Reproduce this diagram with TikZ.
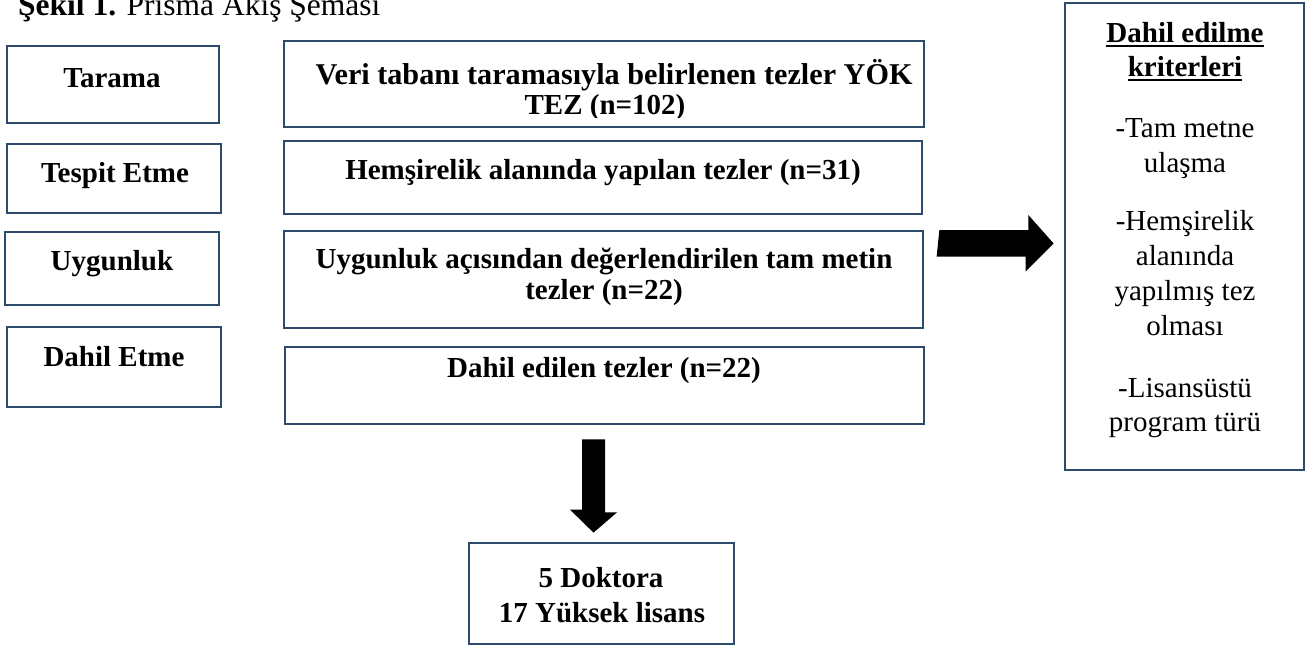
\documentclass[tikz,border=0pt]{standalone}
\usepackage{fontspec}
\setmainfont{Liberation Serif}
\usetikzlibrary{calc}
\definecolor{bordc}{HTML}{2E4B6D}
\tikzset{
  box/.style={draw=bordc, line width=2.7pt, rectangle, inner sep=0pt},
  lbl/.style={anchor=base, inner sep=0pt, font=\fontsize{29}{29}\selectfont\bfseries},
  crit/.style={anchor=base, inner sep=0pt, font=\fontsize{29}{29}\selectfont},
  capt/.style={anchor=base west, inner sep=0pt, font=\fontsize{31.5}{31.5}\selectfont},
  blockarrow/.style={fill=black, draw=none},
  uline/.style={line width=2.5pt, black}
}
\begin{document}
\begin{tikzpicture}[x=1pt,y=-1pt]
\useasboundingbox (0,0) rectangle (1309,646);
% caption
\node[capt] (cap) at (18,15) {\textbf{Şekil 1.} Prisma Akış Şeması};
% left stage boxes
\node[box, minimum width=212pt, minimum height=77pt] (tarama) at (113,84.5) {};
\node[box, minimum width=214pt, minimum height=69pt] (tespit) at (114,178.5) {};
\node[box, minimum width=214pt, minimum height=73pt] (uygun) at (112,268.5) {};
\node[box, minimum width=214pt, minimum height=80pt] (dahil) at (114,367) {};
\node[lbl] (t1) at (112,87) {Tarama};
\node[lbl] (t2) at (115,182) {Tespit Etme};
\node[lbl] (t3) at (112,270) {Uygunluk};
\node[lbl] (t4) at (114,366) {Dahil Etme};
% middle boxes
\node[box, minimum width=640pt, minimum height=86pt] (veri) at (604,84) {};
\node[box, minimum width=638pt, minimum height=73pt] (hems) at (603,177.5) {};
\node[box, minimum width=639pt, minimum height=97pt] (uygbig) at (603.5,279.5) {};
\node[box, minimum width=639pt, minimum height=77pt] (dahilbig) at (604.5,385.5) {};
\node[lbl, font=\fontsize{30.2}{30}\selectfont\bfseries] (v1) at (614,84) {Veri tabanı taramasıyla belirlenen tezler YÖK};
\begin{scope}
  \clip (286,43) rectangle (922,117);
  \node[lbl] (v2) at (605,114) {TEZ (n=102)};
\end{scope}
\node[lbl] (h1) at (603,179) {Hemşirelik alanında yapılan tezler (n=31)};
\node[lbl] (u1) at (604,268) {Uygunluk açısından değerlendirilen tam metin};
\node[lbl] (u2) at (604,299) {tezler (n=22)};
\node[lbl] (d1) at (604,377) {Dahil edilen tezler (n=22)};
% criteria box
\node[box, minimum width=239pt, minimum height=467pt] (critbox) at (1184.5,236.5) {};
\node[lbl] (c1) at (1185,42) {Dahil edilme};
\node[lbl] (c2) at (1185,76) {kriterleri};
\draw[uline] ([yshift=-4pt]c1.base west) -- ([yshift=-4pt]c1.base east);
\draw[uline] ([yshift=-4pt]c2.base west) -- ([yshift=-4pt]c2.base east);
\node[crit] (c3) at (1185,137) {-Tam metne};
\node[crit] (c4) at (1185,172) {ulaşma};
\node[crit] (c5) at (1185,230) {-Hemşirelik};
\node[crit] (c6) at (1185,265) {alanında};
\node[crit] (c7) at (1185,300) {yapılmış tez};
\node[crit] (c8) at (1185,335) {olması};
\node[crit] (c9) at (1185,397) {-Lisansüstü};
\node[crit] (c10) at (1185,431) {program türü};
% result box
\node[box, minimum width=265pt, minimum height=101pt] (result) at (601.5,593.5) {};
\node[lbl] (r1) at (601,587) {5 Doktora};
\node[lbl] (r2) at (602,622) {17 Yüksek lisans};
% block arrows
\coordinate (ra) at ($(uygbig.east) + (15,-36)$);
\coordinate (rb) at ($(critbox.west) + (-10,7)$);
\fill[blockarrow] ($(ra)+(0,-13.5)$) -- ++(89,0) -- ++(0,-15) -- (rb) -- ++(-28,28) -- ++(0,-15) -- ++(-89,0) -- cycle;
\coordinate (da) at ($(dahilbig.south) + (-11,14)$);
\coordinate (db) at ($(result.north) + (-8,-9)$);
\fill[blockarrow] ($(da)+(-11.5,0)$) -- ++(23,0) -- ++(0,73) -- ++(12,0) -- (db) -- ++(-23.5,-23) -- ++(12,0) -- cycle;
\end{tikzpicture}
\end{document}
